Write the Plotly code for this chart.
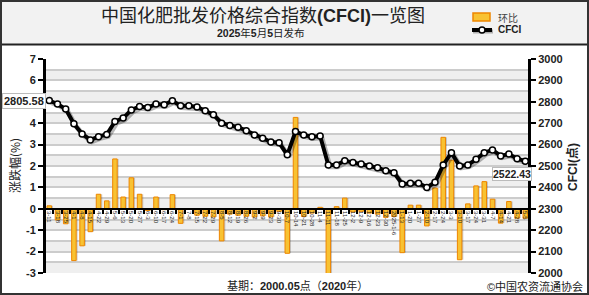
import plotly.graph_objects as go

# ---------------- data ----------------
dates = ["3-11", "3-18", "3-25", "4-1", "4-8", "4-15", "4-22", "4-29", "5-6", "5-13",
         "5-20", "5-27", "6-3", "6-10", "6-17", "6-24", "7-1", "7-8", "7-15", "7-22",
         "7-29", "8-5", "8-12", "8-19", "8-26", "9-2", "9-9", "9-23", "9-30", "10-7",
         "10-14", "10-21", "10-28", "11-4", "11-11", "11-18", "11-25", "12-2", "12-9", "12-16",
         "12-23", "12-30", "2025-1-6", "1-13", "1-20", "1-27", "2-10", "2-17", "2-24", "3-3",
         "3-10", "3-17", "3-24", "3-31", "4-7", "4-14", "4-21", "4-28", "5-5"]

cfci = [2805.58, 2790, 2766, 2697, 2650, 2622, 2637, 2647, 2708, 2724,
        2762, 2778, 2773, 2790, 2786, 2805, 2781, 2781, 2776, 2758,
        2740, 2700, 2689, 2681, 2665, 2645, 2630, 2612, 2609, 2552,
        2661, 2645, 2637, 2640, 2505, 2505, 2525, 2516, 2509, 2500,
        2492, 2478, 2469, 2416, 2419, 2419, 2400, 2424, 2505, 2562,
        2500, 2505, 2531, 2562, 2575, 2547, 2556, 2534, 2522.43]

change = [0.14, -0.52, -0.7, -2.42, -1.73, -1.07, 0.68, 0.37, 2.33, 0.55,
          1.45, 0.68, -0.08, 0.55, -0.04, 0.66, -0.68, -0.03, -0.3, -0.35,
          -0.38, -1.5, -0.25, -0.3, -0.35, -0.38, -0.33, -0.38, -0.12, -2.08,
          4.27, -0.36, -0.2, 0.07, -5.1, 0.1, 0.5, -0.15, -0.12, -0.2,
          -0.25, -0.4, -0.36, -2.05, 0.17, 0.17, -0.8, 0.97, 3.34, 2.27,
          -2.38, 0.23, 1.07, 1.27, 0.45, -0.67, 0.34, -0.44, -0.44]

left_ticks = [-3, -2, -1, 0, 1, 2, 3, 4, 5, 6, 7]
# the "5" label is hidden behind the first-value box in the reference
left_labels = ["-3", "-2", "-1", "0", "1", "2", "3", "4", "", "6", "7"]
right_ticks = [2000, 2100, 2200, 2300, 2400, 2500, 2600, 2700, 2800, 2900, 3000]

# ---------------- layout geometry ----------------
W, H = 589, 295
L, R, T, B = 46, 61, 59, 22
PW = W - L - R
PH = H - T - B
Y2MIN, Y2MAX = 2000, 3000
BAR_W = 0.55


def px_x(px):
    return (px - L) / PW


def px_y(py):
    return (H - B - py) / PH


def y2_paper(v):
    return (v - Y2MIN) / (Y2MAX - Y2MIN)


CJK = "Noto Sans CJK SC"
NUM = "Liberation Sans, Noto Sans CJK SC"

xs = list(range(len(dates)))

fig = go.Figure()

# alternating grey bands
for n in left_ticks[:-1]:
    fig.add_shape(type="rect", xref="paper", yref="y", x0=0, x1=1, y0=n, y1=n + 0.5,
                  fillcolor="#efefef", line_width=0, layer="below")

# title band + frame
fig.add_shape(type="rect", xref="paper", yref="paper", x0=px_x(0), x1=px_x(W),
              y0=px_y(44), y1=px_y(0), fillcolor="#f2f2f2", line_width=0, layer="below")
fig.add_shape(type="line", xref="paper", yref="paper", x0=px_x(0), x1=px_x(W),
              y0=px_y(44.5), y1=px_y(44.5), line=dict(color="#222", width=2))
fig.add_shape(type="rect", xref="paper", yref="paper", x0=px_x(1), x1=px_x(W - 1),
              y0=px_y(H - 1), y1=px_y(1), line=dict(color="#333", width=2))

# legend (drawn by hand to match the compact reference legend)
fig.add_shape(type="rect", xref="paper", yref="paper", x0=px_x(473), x1=px_x(490),
              y0=px_y(21), y1=px_y(13), fillcolor="#f8c232",
              line=dict(color="#ee8600", width=1.5))
fig.add_shape(type="line", xref="paper", yref="paper", x0=px_x(473), x1=px_x(493),
              y0=px_y(31.5), y1=px_y(31.5), line=dict(color="rgba(0,0,0,0.28)", width=4))
fig.add_shape(type="line", xref="paper", yref="paper", x0=px_x(472), x1=px_x(492),
              y0=px_y(30), y1=px_y(30), line=dict(color="black", width=4))
fig.add_shape(type="circle", xref="paper", yref="paper", x0=px_x(479), x1=px_x(485),
              y0=px_y(33), y1=px_y(27), fillcolor="white", line=dict(color="black", width=1.5))

# bar shadow (same values, nudged right)
fig.add_trace(go.Bar(
    x=xs, y=change, width=BAR_W, offset=-BAR_W / 2 + 0.18, yaxis="y",
    marker=dict(color="rgba(0,0,0,0.18)", line=dict(width=0)),
    showlegend=False, hoverinfo="skip",
))

fig.add_trace(go.Bar(
    x=xs, y=change, width=BAR_W, offset=-BAR_W / 2, name="环比", yaxis="y",
    marker=dict(color="#f8c232", line=dict(color="#ee8600", width=1)),
))

fig.add_trace(go.Scatter(
    x=[i + 0.2 for i in xs], y=[v - 8 for v in cfci], yaxis="y2", mode="lines",
    line=dict(color="rgba(0,0,0,0.28)", width=5), showlegend=False, hoverinfo="skip",
))

fig.add_trace(go.Scatter(
    x=xs, y=cfci, yaxis="y2", mode="lines+markers", name="CFCI",
    line=dict(color="black", width=4),
    marker=dict(size=6, color="white", line=dict(color="black", width=1.5)),
))

fig.update_layout(
    width=W, height=H,
    margin=dict(l=L, r=R, t=T, b=B, pad=0),
    paper_bgcolor="white", plot_bgcolor="white",
    barmode="overlay",
    showlegend=False,
    xaxis=dict(range=[-0.4, 58.33], tickmode="array", tickvals=xs, ticktext=dates,
               tickangle=90, tickfont=dict(size=6, family=NUM, color="#222"),
               anchor="free", position=0.3, showline=True, linecolor="black", linewidth=2,
               ticks="", showgrid=False, zeroline=False,
               minor=dict(tick0=0.5, dtick=1, ticks="outside", ticklen=4, tickwidth=2,
                          tickcolor="black", showgrid=False)),
    yaxis=dict(range=[-3, 7], tickmode="array", tickvals=left_ticks, ticktext=left_labels,
               ticks="outside", ticklen=5, tickwidth=2, tickcolor="black",
               showline=True, linewidth=3, linecolor="black",
               tickfont=dict(size=11, family=NUM, weight="bold", color="#222"),
               showgrid=True, gridcolor="#cccccc", gridwidth=1.5, zeroline=False,
               minor=dict(dtick=0.5, showgrid=True, gridcolor="#cccccc", gridwidth=1.5)),
    yaxis2=dict(range=[Y2MIN, Y2MAX], overlaying="y", side="right", tickmode="array",
                tickvals=right_ticks, ticks="outside", ticklen=5, tickwidth=2, tickcolor="black",
                showline=True, linewidth=3, linecolor="black", showgrid=False, zeroline=False,
                tickfont=dict(size=11, family=NUM, weight="bold", color="#222")),
)

ann = [
    dict(text="中国化肥批发价格综合指数<b>(CFCI)</b>一览图", x=px_x(263), y=px_y(16),
         font=dict(size=18, family=NUM, color="#222")),
    dict(text="<b>2025</b>年<b>5</b>月<b>5</b>日发布", x=px_x(261), y=px_y(33),
         font=dict(size=10.5, family=NUM, color="#222")),
    dict(text="环比", x=px_x(496), y=px_y(17), xanchor="left",
         font=dict(size=10, family=CJK, color="#444")),
    dict(text="<b>CFCI</b>", x=px_x(496), y=px_y(30), xanchor="left",
         font=dict(size=10, family=NUM, color="#222")),
    dict(text="涨跌幅(%)", x=px_x(14), y=px_y(166), textangle=-90,
         font=dict(size=12, family=CJK, color="#222")),
    dict(text="<b>CFCI(点)</b>", x=px_x(572), y=px_y(167), textangle=-90,
         font=dict(size=12, family=NUM, color="#222")),
    dict(text="基期：<b>2000.05</b>点（<b>2020</b>年）", x=px_x(297), y=px_y(285),
         font=dict(size=11, family=NUM, color="#222")),
    dict(text="©中国农资流通协会", x=px_x(585), y=px_y(286), xanchor="right",
         font=dict(size=11, family=NUM, color="#222")),
    # value boxes for the first and last CFCI points
    dict(text="<b>%.2f</b>" % cfci[0], x=px_x(24), y=y2_paper(cfci[0]),
         font=dict(size=11, family=NUM, color="#222"),
         bgcolor="white", bordercolor="#bbbbbb", borderwidth=1, borderpad=1),
    # last value box: kept just left of the right-axis labels so it does not collide with them
    dict(text="<b>%.2f</b>" % cfci[-1], x=px_x(532), xanchor="right",
         y=y2_paper(cfci[-1]), yshift=-13,
         font=dict(size=10.5, family=NUM, color="#222"),
         bgcolor="white", bordercolor="#bbbbbb", borderwidth=1, borderpad=0),
]
for a in ann:
    a.setdefault("xref", "paper")
    a.setdefault("yref", "paper")
    a.setdefault("showarrow", False)
    a.setdefault("xanchor", "center")
    a.setdefault("yanchor", "middle")
    fig.add_annotation(**a)

fig.write_html("out.html")
